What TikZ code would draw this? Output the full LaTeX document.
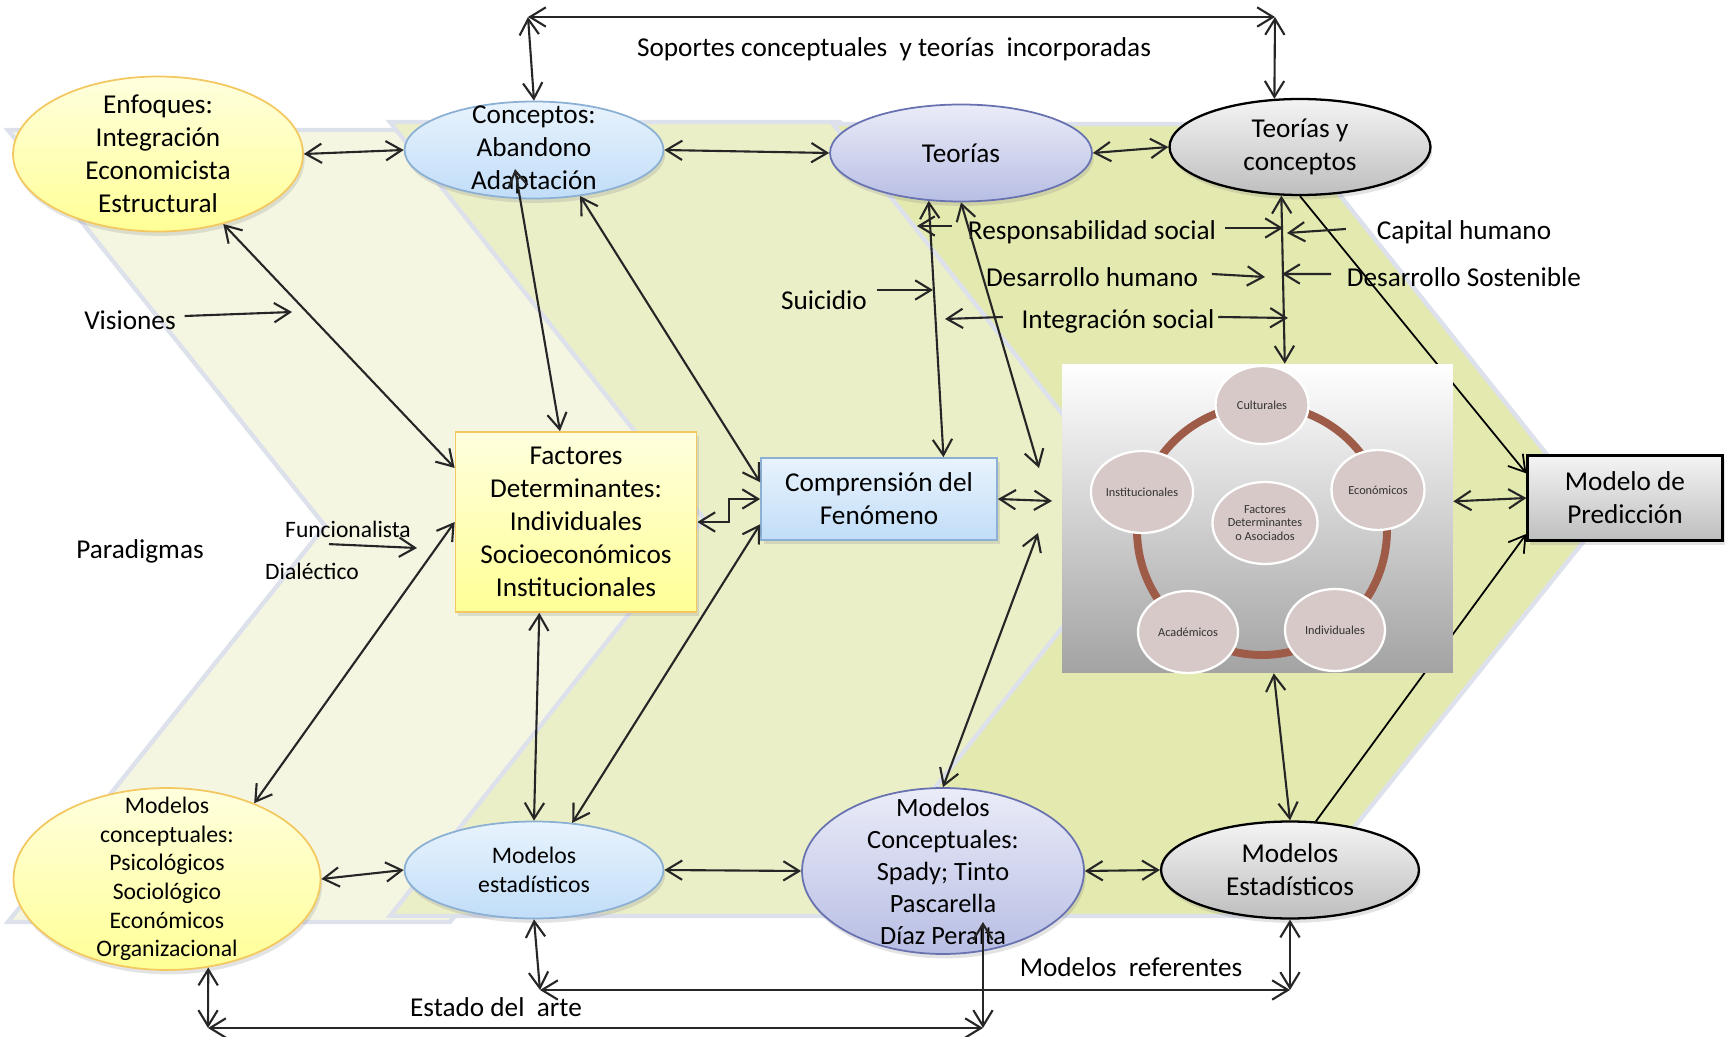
\documentclass[tikz,border=0pt]{standalone}
\usepackage{fontspec}
\setmainfont{Carlito}
\usetikzlibrary{arrows.meta,shapes.geometric,shadows}

\definecolor{chevA}{RGB}{244,246,226}
\definecolor{chevB}{RGB}{235,239,200}
\definecolor{chevC}{RGB}{227,233,175}
\definecolor{chevEdge}{RGB}{221,225,235}
\definecolor{yelTop}{RGB}{255,255,222}
\definecolor{yelBot}{RGB}{255,255,150}
\definecolor{yelLine}{RGB}{244,200,96}
\definecolor{bluTop}{RGB}{232,243,253}
\definecolor{bluBot}{RGB}{193,221,248}
\definecolor{bluLine}{RGB}{140,176,212}
\definecolor{lilTop}{RGB}{234,236,248}
\definecolor{lilBot}{RGB}{184,190,228}
\definecolor{lilLine}{RGB}{104,114,176}
\definecolor{gryTop}{RGB}{244,244,244}
\definecolor{gryBot}{RGB}{190,190,190}
\definecolor{picBot}{RGB}{163,163,163}
\definecolor{ringBrown}{RGB}{158,92,72}
\definecolor{dotFill}{RGB}{214,201,199}
\definecolor{arrowInk}{RGB}{38,38,38}

\begin{document}
\begin{tikzpicture}[x=0.02cm, y=-0.02cm,
    >={Straight Barb[length=9pt,width=11pt]},
    every node/.style={font=\fontsize{15.5}{18.8}\selectfont},
    link/.style={draw=arrowInk, line width=1.2pt},
    pointer/.style={draw=black, line width=1pt},
    chevron/.style={draw=chevEdge, line width=2.5pt},
    oval/.style={ellipse, inner sep=0pt, line width=1pt,
        drop shadow={opacity=0.22, shadow xshift=1pt, shadow yshift=-2.5pt}},
    box/.style={rectangle, inner sep=0pt, align=center, line width=1pt,
        drop shadow={opacity=0.22, shadow xshift=1.5pt, shadow yshift=-2.5pt}},
    ovaltxt/.style={align=center, inner sep=0pt},
    smalltxt/.style={font=\fontsize{13.5}{16.3}\selectfont},
    yelshade/.style={top color=yelTop, bottom color=yelBot, draw=yelLine},
    blushade/.style={top color=bluTop, bottom color=bluBot, draw=bluLine},
    lilshade/.style={top color=lilTop, bottom color=lilBot, draw=lilLine},
    gryshade/.style={top color=gryTop, bottom color=gryBot, draw=black, line width=1.3pt},
    dot/.style={ellipse, fill=dotFill, draw=white, line width=1.3pt, inner sep=0pt,
        minimum width=2cm, minimum height=1.64cm, align=center, text=black!80,
        font=\fontsize{7}{7.6}\selectfont},
    lbl/.style={inner sep=2pt}
]
    \useasboundingbox (0,0) rectangle (1729,1037);

    % Background chevrons
    \filldraw[chevron, fill=chevA] (8,130) -- (450,130) -- (765,526) -- (450,922) -- (8,922) -- (325,526) -- cycle;
    \filldraw[chevron, fill=chevB] (390,122) -- (840,122) -- (1154,519) -- (840,916) -- (390,916) -- (704,519) -- cycle;
    \filldraw[chevron, fill=chevC] (833,124) -- (1283,124) -- (1600,521) -- (1283,916) -- (833,916) -- (1147,521) -- cycle;

    % Define nodes
    \node[oval, yelshade, minimum width=5.8cm, minimum height=3.1cm,
        label={[ovaltxt]center:{Enfoques:\\Integración\\Economicista\\Estructural}}] (enf) at (158,154) {};
    \node[oval, blushade, minimum width=5.18cm, minimum height=1.94cm,
        label={[ovaltxt]center:{Conceptos:\\Abandono\\Adaptación}}] (conc) at (534,150) {};
    \node[oval, lilshade, minimum width=5.24cm, minimum height=1.94cm] (teo) at (961,153) {Teorías};
    \node[oval, gryshade, minimum width=5.22cm, minimum height=1.92cm, align=center] (tyc) at (1300,147) {Teorías y\\conceptos};
    \node[box, yelshade, minimum width=4.82cm, minimum height=3.6cm] (fac) at (576,522) {Factores\\Determinantes:\\Individuales\\Socioeconómicos\\Institucionales};
    \node[box, blushade, minimum width=4.72cm, minimum height=1.64cm] (comp) at (879,499) {Comprensión del\\Fenómeno};
    \node[box, gryshade, minimum width=3.9cm, minimum height=1.7cm] (pred) at (1625,498) {Modelo de\\Predicción};
    \node[oval, yelshade, minimum width=6.14cm, minimum height=3.64cm,
        label={[ovaltxt,smalltxt]center:{Modelos\\conceptuales:\\Psicológicos\\Sociológico\\Económicos\\Organizacional}}] (mcon) at (167,879) {};
    \node[oval, blushade, minimum width=5.18cm, minimum height=1.94cm, smalltxt, align=center] (mest) at (534,870) {Modelos\\estadísticos};
    \node[oval, lilshade, minimum width=5.64cm, minimum height=3.32cm,
        label={[ovaltxt,font=\fontsize{15}{18.2}\selectfont]center:{Modelos\\Conceptuales:\\Spady; Tinto\\Pascarella\\Díaz Peralta}}] (mcs) at (943,871) {};
    \node[oval, gryshade, minimum width=5.16cm, minimum height=1.94cm, align=center] (mestB) at (1290,870) {Modelos\\Estadísticos};

    % Labels
    \node[lbl] (sop) at (894,49) {Soportes conceptuales~ y teorías~ incorporadas};
    \node[lbl] (vis) at (130,320) {Visiones};
    \node[lbl] (par) at (140,551) {Paradigmas};
    \node[lbl, font=\fontsize{13.4}{16}\selectfont] (func) at (348,529) {Funcionalista};
    \node[lbl, font=\fontsize{13.4}{16}\selectfont] (dial) at (312,571) {Dialéctico};
    \node[lbl] (sui) at (824,300) {Suicidio};
    \node[lbl] (resp) at (1092,232) {Responsabilidad social};
    \node[lbl, node distance=0.9cm, below of=resp] (dhum) {Desarrollo humano};
    \node[lbl, node distance=0.88cm, below of=dhum, xshift=0.52cm] (integ) {Integración social};
    \node[lbl] (cap) at (1464,232) {Capital humano};
    \node[lbl, node distance=0.9cm, below of=cap] (dsos) {Desarrollo Sostenible};
    \node[lbl] (mref) at (1131,967) {Modelos~ referentes};
    \node[lbl] (arte) at (496,1007) {Estado del~ arte};

    % Free ends
    \coordinate (topL) at (528,17);
    \coordinate (topR) at (1275,17);
    \coordinate (visEnd) at (292,312);
    \coordinate (funcB) at (417,548);
    \coordinate (suiEnd) at (933,290);
    \coordinate (respL) at (917,226);
    \coordinate (respR) at (1283,228);
    \coordinate (dhumR) at (1265,277);
    \coordinate (integL) at (945,319);
    \coordinate (integR) at (1288,318);
    \coordinate (capL) at (1287,233);
    \coordinate (dsosL) at (1282,274);
    \coordinate (picA) at (1039,468);
    \coordinate (picB) at (1052,501);
    \coordinate (picC) at (1038,533);
    \coordinate (concIn) at (515,169);
    \coordinate (spadyIn) at (983,922);
    \coordinate (botA) at (540,990);
    \coordinate (botB) at (1290,990);
    \coordinate (botC) at (208,1028);
    \coordinate (botD) at (983,1028);

    % Lines running behind the picture
    \draw[pointer,->] (tyc.south) -- (pred.166);
    \draw[pointer,->] (mestB.62) -- (pred.200);

    % Picture of factors
    \node[rectangle, inner sep=0pt, minimum width=7.82cm, minimum height=6.18cm,
        top color=white, bottom color=picBot] (pic) at (1257.5,518.5) {};
    \draw[ringBrown, line width=4.5pt] (1262,530) circle[radius=125];
    \node[dot, minimum width=1.86cm, minimum height=1.56cm] (cult) at (1262,405) {Culturales};
    \node[dot, minimum width=1.86cm, minimum height=1.6cm] (econ) at (1378,490) {Económicos};
    \node[dot] (indiv) at (1335,630) {Individuales};
    \node[dot] (acad) at (1188,632) {Académicos};
    \node[dot] (inst) at (1142,492) {Institucionales};
    \node[dot] (core) at (1265,523) {Factores\\Determinantes\\o Asociados};

    % Draw edges
    \draw[link,<->] (conc.north) -- (topL);
    \draw[link,<->] (topL) -- (topR);
    \draw[link,<->] (topR) -- (tyc.118);
    \draw[link,<->] (enf.east) -- (conc.west);
    \draw[link,<->] (conc.east) -- (teo.west);
    \draw[link,<->] (teo.east) -- (tyc.west);
    \draw[link,<->] (enf.-47) -- (fac.156);
    \draw[link,->] ([shift={(5,-4)}]vis.east) -- (visEnd);
    \draw[link,<->] (concIn) -- (fac.100);
    \draw[link,<->] (conc.-45) -- (comp.172);
    \draw[link,<->] (fac.east) -- ++(32,0) |- (comp.west);
    \draw[link,<->] (mcon.41) -- (fac.west);
    \draw[link,->] ([shift={(-19,3)}]func.south) -- (funcB);
    \draw[link,<->] (fac.-112) -- (mest.north);
    \draw[link,<->] (comp.192) -- (mest.51);
    \draw[link,<->] (teo.-124) -- (comp.33);
    \draw[link,<->] (teo.south) -- (picA);
    \draw[link,->] ([shift={(6,-10)}]sui.east) -- (suiEnd);
    \draw[link,->] ([shift={(-12,-6)}]resp.west) -- (respL);
    \draw[link,->] ([shift={(5,-4)}]resp.east) -- (respR);
    \draw[link,->] ([shift={(10,-3)}]dhum.east) -- (dhumR);
    \draw[link,->] ([shift={(-15,-4)}]integ.west) -- (integL);
    \draw[link,->] ([shift={(0,-4)}]integ.east) -- (integR);
    \draw[link,->] ([shift={(-27,-3)}]cap.west) -- (capL);
    \draw[link,->] ([shift={(-12,-3)}]dsos.west) -- (dsosL);
    \draw[link,<->] (tyc.-111) -- (pic.80);
    \draw[link,<->] (comp.east) -- (picB);
    \draw[link,<->] (mcs.north) -- (picC);
    \draw[link,<->] (pic.-84) -- (mestB.north);
    \draw[link,<->] (pic.5) -- (pred.west);
    \draw[link,<->] (mcon.east) -- (mest.west);
    \draw[link,<->] (mest.east) -- (mcs.west);
    \draw[link,<->] (mcs.east) -- (mestB.west);
    \draw[link,<->] (mest.south) -- (botA);
    \draw[link,<->] (botA) -- (botB);
    \draw[link,<->] (botB) -- (mestB.south);
    \draw[link,<->] (mcon.-65) -- (botC);
    \draw[link,<->] (botC) -- (botD);
    \draw[link,<->] (botD) -- (spadyIn);
\end{tikzpicture}
\end{document}
